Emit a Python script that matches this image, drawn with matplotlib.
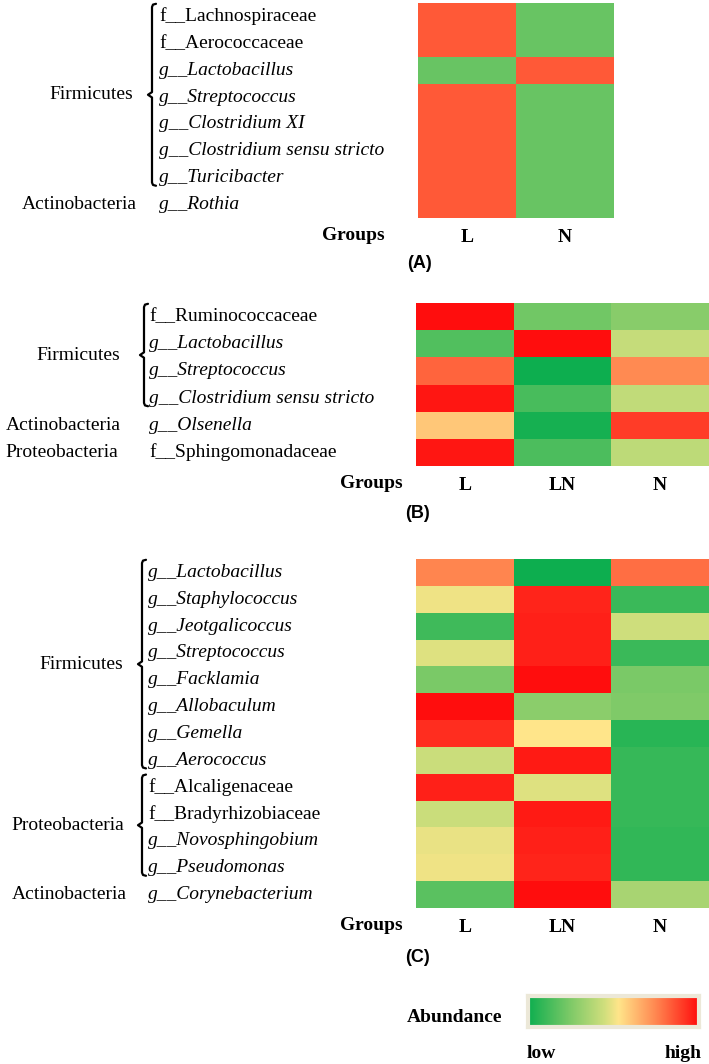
import numpy as np
import matplotlib
matplotlib.use("Agg")
import matplotlib.pyplot as plt
from matplotlib.colors import LinearSegmentedColormap
from matplotlib import transforms

# data ---------------------------------------------------------------
taxa_a = ["f__Lachnospiraceae", "f__Aerococcaceae", "g__Lactobacillus", "g__Streptococcus",
          "g__Clostridium XI", "g__Clostridium sensu stricto", "g__Turicibacter", "g__Rothia"]
groups_a = ["L", "N"]
vals_a = [[0.84, 0.2], [0.84, 0.2], [0.2, 0.84], [0.84, 0.2],
          [0.84, 0.2], [0.84, 0.2], [0.84, 0.2], [0.84, 0.2]]
phyla_a = [("Firmicutes", 0, 6), ("Actinobacteria", 7, 7)]

taxa_b = ["f__Ruminococcaceae", "g__Lactobacillus", "g__Streptococcus",
          "g__Clostridium sensu stricto", "g__Olsenella", "f__Sphingomonadaceae"]
groups_b = ["L", "LN", "N"]
vals_b = [[1.0, 0.22, 0.27],
          [0.15, 1.0, 0.42],
          [0.82, 0.0, 0.74],
          [0.98, 0.13, 0.41],
          [0.6, 0.02, 0.9],
          [0.98, 0.14, 0.4]]
phyla_b = [("Firmicutes", 0, 3), ("Actinobacteria", 4, 4), ("Proteobacteria", 5, 5)]

taxa_c = ["g__Lactobacillus", "g__Staphylococcus", "g__Jeotgalicoccus", "g__Streptococcus",
          "g__Facklamia", "g__Allobaculum", "g__Gemella", "g__Aerococcus",
          "f__Alcaligenaceae", "f__Bradyrhizobiaceae", "g__Novosphingobium",
          "g__Pseudomonas", "g__Corynebacterium"]
groups_c = ["L", "LN", "N"]
vals_c = [[0.75, 0.0, 0.8],
          [0.5, 0.95, 0.1],
          [0.11, 0.96, 0.44],
          [0.47, 0.96, 0.1],
          [0.24, 1.0, 0.24],
          [1.0, 0.28, 0.25],
          [0.93, 0.53, 0.06],
          [0.43, 0.97, 0.09],
          [0.96, 0.47, 0.09],
          [0.43, 0.97, 0.09],
          [0.49, 0.96, 0.08],
          [0.5, 0.95, 0.08],
          [0.17, 1.0, 0.35]]
phyla_c = [("Firmicutes", 0, 7), ("Proteobacteria", 8, 11), ("Actinobacteria", 12, 12)]

cmap = LinearSegmentedColormap.from_list(
    "abund", [(0, "#0DAE4F"), (0.25, "#7FCA68"), (0.45, "#D2DF7D"),
              (0.53, "#FFE58A"), (0.75, "#FF8650"), (1.0, "#FF0D0D")])

W, H = 709, 1064
fig = plt.figure(figsize=(W / 100, H / 100), dpi=100)
bg = fig.add_axes([0, 0, 1, 1])
bg.set_xlim(0, W)
bg.set_ylim(H, 0)
bg.set_axis_off()

serif = "Liberation Serif"
FS = 14


def panel(taxa, groups, vals, phyla, box, lab_x, brace_x, phy_x, groups_x, letter, letter_y):
    x0, y0, x1, y1 = box
    ax = fig.add_axes([x0 / W, 1 - y1 / H, (x1 - x0) / W, (y1 - y0) / H])
    ax.pcolormesh(np.array(vals), cmap=cmap, vmin=0, vmax=1)
    ax.set_ylim(len(taxa), 0)
    ax.set_xlim(0, len(groups))
    ax.set_yticks([])
    ax.set_xticks(np.arange(len(groups)) + 0.5)
    ax.set_xticklabels(groups, family=serif, fontsize=FS, fontweight="bold")
    ax.tick_params(axis="x", length=0, pad=8)
    for s in ax.spines.values():
        s.set_visible(False)
    tr = transforms.blended_transform_factory(bg.transData, ax.transData)
    for i, t in enumerate(taxa):
        style = "italic" if t.startswith("g__") else "normal"
        bg.text(lab_x, i + 0.5, t, transform=tr, family=serif, fontsize=FS,
                style=style, ha="left", va="center")
    for name, r0, r1 in phyla:
        if r1 > r0:
            top, bot = r0 + 0.03, r1 + 0.8
            mid = (top + bot) / 2
            bx = brace_x
            px = [bx + 4, bx + 1, bx, bx, bx - 4, bx, bx, bx + 1, bx + 4]
            py = [top, top + 0.03, top + 0.12, mid - 0.1, mid, mid + 0.1,
                  bot - 0.12, bot - 0.03, bot]
            bg.plot(px, py, transform=tr, color="black", lw=1.6,
                    solid_joinstyle="round", solid_capstyle="round")
        else:
            mid = r0 + 0.5
        bg.text(phy_x[name], mid, name, transform=tr, family=serif, fontsize=FS,
                ha="right", va="center")
    bg.text(groups_x, y1 + 18, "Groups", family=serif, fontsize=FS,
            fontweight="bold", ha="right", va="center")
    bg.text(x0 + 2, letter_y, letter, family="Liberation Sans", fontsize=13,
            fontweight="bold", ha="center", va="center")
    return ax


panel(taxa_a, groups_a, vals_a, phyla_a, (418, 3, 614, 218), 159, 152,
      {"Firmicutes": 133, "Actinobacteria": 137}, 385, "(A)", 264)
panel(taxa_b, groups_b, vals_b, phyla_b, (416, 303, 709, 466), 149, 144,
      {"Firmicutes": 120, "Actinobacteria": 121, "Proteobacteria": 118}, 403, "(B)", 513)
panel(taxa_c, groups_c, vals_c, phyla_c, (416, 559, 709, 908), 148, 142,
      {"Firmicutes": 123, "Proteobacteria": 124, "Actinobacteria": 127}, 403, "(C)", 957)

# colour key
cax = fig.add_axes([528 / W, 1 - 1027 / H, (699 - 528) / W, 31 / H])
cax.imshow(np.linspace(0, 1, 256)[None, :], cmap=cmap, aspect="auto")
cax.set_xticks([])
cax.set_yticks([])
for s in cax.spines.values():
    s.set_color("#ECE8D8")
    s.set_linewidth(3)
bg.text(502, 1017, "Abundance", family=serif, fontsize=FS, fontweight="bold",
        ha="right", va="center")
bg.text(527, 1053, "low", family=serif, fontsize=FS, fontweight="bold", ha="left", va="center")
bg.text(702, 1053, "high", family=serif, fontsize=FS, fontweight="bold", ha="right", va="center")

fig.savefig("out.png", dpi=100)
